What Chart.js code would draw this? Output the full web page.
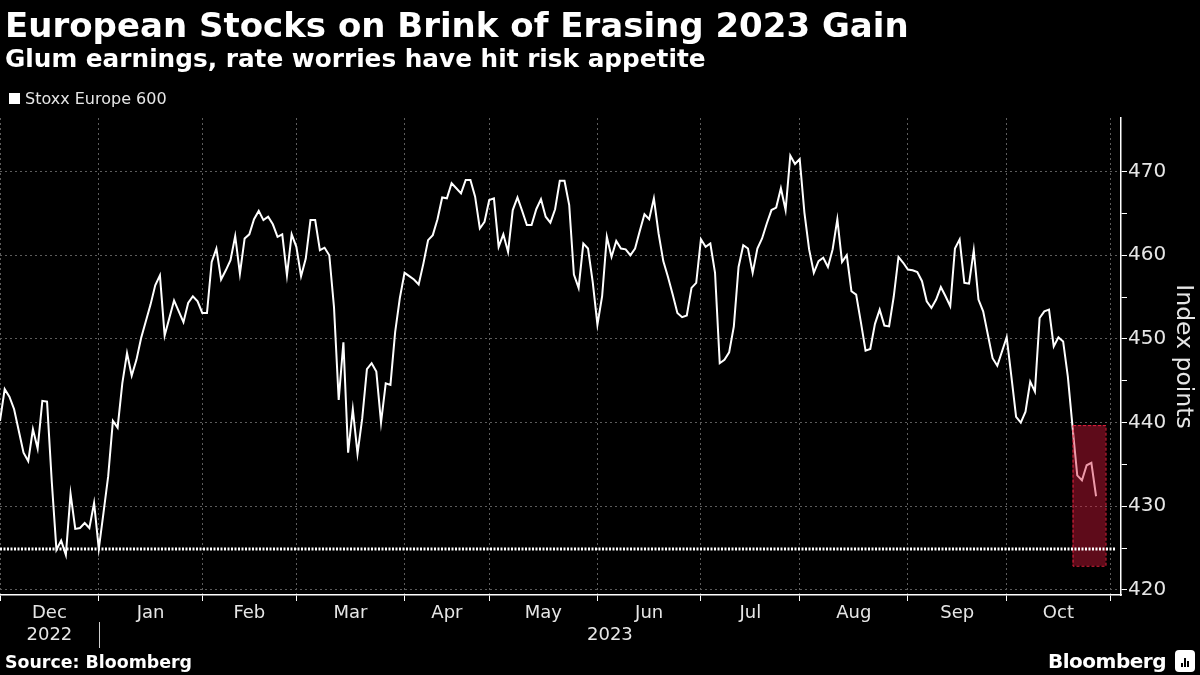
<!DOCTYPE html>
<html>
<head>
<meta charset="utf-8">
<script src="https://cdn.jsdelivr.net/npm/chart.js@4.4.0/dist/chart.umd.min.js"></script>
<style>
  html, body { margin: 0; padding: 0; background: #000; }
  #wrap { position: relative; width: 1200px; height: 675px; background: #000; overflow: hidden;
          font-family: "DejaVu Sans", sans-serif; color: #fff; }
  #chart { position: absolute; left: 0; top: 0; }
  .txt { position: absolute; white-space: nowrap; line-height: 1; }
  .title { left: 5px; top: 8.3px; font-size: 34px; font-weight: bold; }
  .subtitle { left: 5px; top: 47.2px; font-size: 24.75px; font-weight: bold; }
  .legend { left: 25px; top: 91px; font-size: 16px; color: #e6e6e6; }
  .legend-box { position: absolute; left: 9px; top: 93px; width: 11px; height: 11px; background: #fff; }
  .source { left: 5px; top: 653.5px; font-size: 17.4px; font-weight: bold; }
  .brand { left: 1048px; top: 651px; font-size: 20px; font-weight: bold; letter-spacing: -0.5px; }
  .brand-icon { position: absolute; left: 1175px; top: 650px; width: 20px; height: 22px; background: #fff; border-radius: 4px; }
  .brand-icon i { position: absolute; bottom: 5px; width: 2px; background: #000; }
</style>
</head>
<body>
<div id="wrap">
  <canvas id="chart" width="1200" height="675"></canvas>
  <div class="txt title">European Stocks on Brink of Erasing 2023 Gain</div>
  <div class="txt subtitle">Glum earnings, rate worries have hit risk appetite</div>
  <div class="legend-box"></div>
  <div class="txt legend">Stoxx Europe 600</div>
  <div class="txt source">Source: Bloomberg</div>
  <div class="txt brand">Bloomberg</div>
  <div class="brand-icon"><i style="left:6px;height:4px"></i><i style="left:9px;height:9px"></i><i style="left:12px;height:6px"></i></div>
</div>
<script>
// Stoxx Europe 600 daily closes, one trading day per step
const nov22 = [440.2];
const dec22 = [444.0, 443.1, 441.6, 439.0, 436.4, 435.4, 439.2, 436.9, 442.6, 442.5, 433.0,
               424.8, 425.9, 424.2, 431.5, 427.3, 427.4, 428.0, 427.4, 430.4, 424.9];
const jan23 = [429.2, 433.6, 440.2, 439.4, 444.7, 448.3, 445.6, 447.5, 450.1, 452.1, 454.1,
               456.4, 457.6, 450.4, 452.5, 454.6, 453.3, 452.0, 454.3, 455.1, 454.5, 453.1];
const feb23 = [453.1, 459.2, 460.8, 457.1, 458.2, 459.4, 462.3, 457.8, 462.0, 462.5,
               464.3, 465.3, 464.2, 464.6, 463.7, 462.2, 462.5, 457.6, 462.5, 461.0];
const mar23 = [457.5, 459.6, 464.2, 464.2, 460.6, 460.9, 460.0, 453.8, 442.7, 449.6, 436.4, 441.6,
               436.3, 440.5, 446.4, 447.1, 446.1, 440.0, 444.7, 444.5, 450.8, 454.9, 457.9];
const apr23 = [457.5, 457.1, 456.5, 459.0, 461.8, 462.4, 464.3, 466.9, 466.8,
               468.6, 468.0, 467.4, 469.0, 469.0, 467.0, 463.2, 464.0, 466.6];
const may23 = [466.8, 461.0, 462.5, 460.4, 465.4, 466.9, 465.3, 463.6, 463.6, 465.5, 466.7, 464.6,
               463.9, 465.5, 468.9, 468.9, 466.0, 457.7, 456.1, 461.4, 460.8, 456.8, 451.7];
const jun23 = [455.1, 462.2, 459.8, 461.7, 460.8, 460.7, 460.0, 460.8, 462.9, 464.9, 464.3,
               466.8, 462.6, 459.3, 457.4, 455.3, 453.1, 452.6, 452.8, 456.1, 456.7, 461.9];
const jul23 = [461.0, 461.4, 457.9, 447.1, 447.5, 448.4, 451.5, 458.6, 461.2, 460.8, 457.9,
               460.8, 462.0, 463.8, 465.4, 465.7, 468.0, 465.4, 471.9, 470.9, 471.5];
const aug23 = [465.1, 460.7, 457.9, 459.3, 459.7, 458.6, 460.7, 464.3, 459.2, 460.0, 455.7, 455.3,
               452.0, 448.6, 448.8, 451.8, 453.5, 451.6, 451.5, 455.1, 459.8, 459.1, 458.3];
const sep23 = [458.2, 458.0, 456.9, 454.5, 453.7, 454.7, 456.2, 455.1, 453.9, 460.8, 461.9,
               456.7, 456.6, 460.6, 454.7, 453.3, 450.5, 447.7, 446.8, 448.5, 450.2];
const oct23 = [445.5, 440.7, 440.0, 441.3, 444.9, 443.7, 452.5, 453.3, 453.5, 449.1,
               450.2, 449.7, 445.5, 439.5, 433.7, 433.1, 434.9, 435.2, 431.2];

// 2022 year-end close (dotted reference line)
const yearStartClose = 424.89;

// x axis: month boundaries in trading-day steps, month and year labels
const monthEdges = [0, 21, 43, 63, 86, 104, 127, 149, 170, 193, 214, 236];
const monthNames = ['Dec', 'Jan', 'Feb', 'Mar', 'Apr', 'May', 'Jun', 'Jul', 'Aug', 'Sep', 'Oct'];
const yearNames = ['2022', '2023'];
const xMax = 238.3;

// y axis
const yMin = 419.4, yMax = 476.4;
const yTicks = [420, 425, 430, 435, 440, 445, 450, 455, 460, 465, 470];

// highlighted last days
const boxFrom = 228, boxTo = 235, boxLow = 422.9, boxHigh = 439.7;

const closes = [].concat(nov22, dec22, jan23, feb23, mar23, apr23, may23, jun23, jul23, aug23, sep23, oct23);
const monthCentres = monthNames.map((m, i) => (monthEdges[i] + monthEdges[i + 1]) / 2);
const yearCentres = [(monthEdges[0] + monthEdges[1]) / 2, (monthEdges[1] + xMax) / 2];

const gridColor = '#5c5c5c';

const overlay = {
  id: 'overlay',
  afterDatasetDraw(chart, args) {
    if (args.index !== 1) return;
    const { ctx, scales: { x, y } } = chart;
    const l = x.getPixelForValue(boxFrom), r = x.getPixelForValue(boxTo);
    const t = y.getPixelForValue(boxHigh), b = y.getPixelForValue(boxLow);
    ctx.save();
    ctx.fillStyle = 'rgba(215,25,60,0.44)';
    ctx.fillRect(l, t, r - l, b - t);
    ctx.setLineDash([3, 2]);
    ctx.strokeStyle = '#e8223f';
    ctx.lineWidth = 1;
    ctx.strokeRect(l + 0.5, t + 0.5, r - l, b - t);
    ctx.restore();
  },
  afterDraw(chart) {
    const { ctx, scales: { x, yearAxis } } = chart;
    const sx = Math.round(x.getPixelForValue(monthEdges[1])) + 0.5;
    ctx.save();
    ctx.strokeStyle = '#cfcfcf';
    ctx.lineWidth = 1;
    ctx.beginPath();
    ctx.moveTo(sx, yearAxis.top - 2);
    ctx.lineTo(sx, yearAxis.bottom);
    ctx.stroke();
    ctx.restore();
  }
};

Chart.defaults.font.family = '"DejaVu Sans", sans-serif';
Chart.defaults.color = '#e6e6e6';

new Chart(document.getElementById('chart'), {
  type: 'line',
  data: {
    datasets: [
      {
        label: 'Year-end 2022',
        data: [{ x: 0, y: yearStartClose }, { x: xMax - 1, y: yearStartClose }],
        borderColor: '#ffffff',
        borderWidth: 3,
        borderDash: [2, 1.5],
        pointRadius: 0
      },
      {
        label: 'Stoxx Europe 600',
        data: closes.map((v, i) => ({ x: i, y: v })),
        borderColor: '#ffffff',
        borderWidth: 2,
        pointRadius: 0,
        tension: 0
      }
    ]
  },
  options: {
    responsive: false,
    animation: false,
    events: [],
    layout: { padding: { top: 118, bottom: 27, left: 0, right: 0 } },
    plugins: { legend: { display: false }, tooltip: { enabled: false } },
    scales: {
      x: {
        type: 'linear', position: 'bottom', weight: 0, min: 0, max: xMax,
        afterBuildTicks: s => { s.ticks = monthEdges.map(v => ({ value: v })); },
        afterFit: s => { s.height = 6; },
        ticks: { display: false },
        grid: { color: gridColor, lineWidth: 1, tickColor: '#ffffff', tickLength: 6 },
        border: { color: '#ffffff', width: 1.5, dash: [2, 3] }
      },
      monthAxis: {
        type: 'linear', position: 'bottom', weight: 1, min: 0, max: xMax,
        afterBuildTicks: s => { s.ticks = monthCentres.map(v => ({ value: v })); },
        afterFit: s => { s.height = 23; },
        grid: { display: false, drawTicks: false },
        border: { display: false },
        ticks: { autoSkip: false, maxRotation: 0, padding: 1.5, font: { size: 18 },
                 callback: (v, i) => monthNames[i] }
      },
      yearAxis: {
        type: 'linear', position: 'bottom', weight: 2, min: 0, max: xMax,
        afterBuildTicks: s => { s.ticks = yearCentres.map(v => ({ value: v })); },
        afterFit: s => { s.height = 24; },
        grid: { display: false, drawTicks: false },
        border: { display: false },
        ticks: { autoSkip: false, maxRotation: 0, padding: 1, font: { size: 18 },
                 callback: (v, i) => yearNames[i] }
      },
      y: {
        position: 'right', min: yMin, max: yMax,
        afterBuildTicks: s => { s.ticks = yTicks.map(v => ({ value: v })); },
        afterFit: s => { s.width = 79; },
        grid: {
          color: c => (c.tick && c.tick.value % 10 === 0) ? gridColor : 'rgba(0,0,0,0)',
          tickColor: '#ffffff', tickLength: 6
        },
        border: { color: '#ffffff', width: 1.5, dash: [2, 3] },
        ticks: { padding: 1, font: { size: 20 }, callback: v => (v % 10 === 0 ? v : '') },
        title: { display: true, text: 'Index points', font: { size: 23.5 }, padding: { top: 3, bottom: 0 } }
      }
    }
  },
  plugins: [overlay]
});
</script>
</body>
</html>
